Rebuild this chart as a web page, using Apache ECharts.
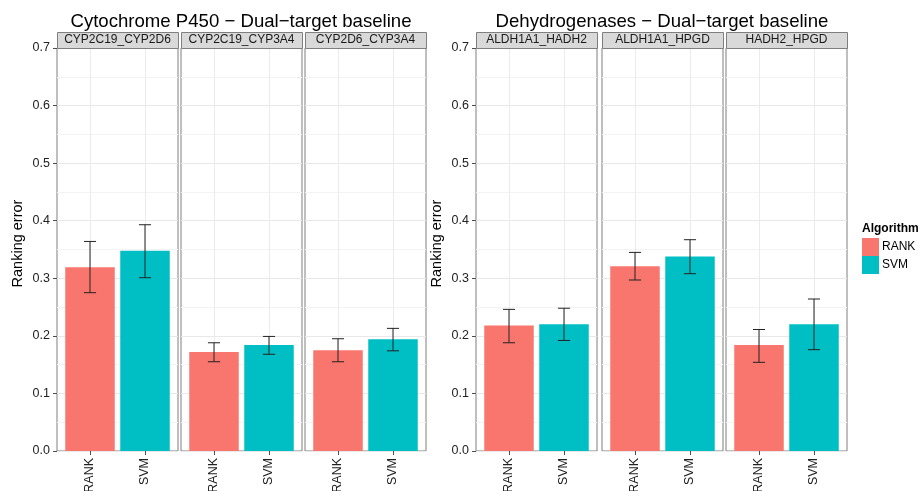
<!DOCTYPE html>
<html>
<head>
<meta charset="utf-8">
<script src="https://cdn.jsdelivr.net/npm/echarts@6/dist/echarts.min.js"></script>
<style>html,body{margin:0;padding:0;background:#fff;}#c{width:921px;height:491px;}</style>
</head>
<body>
<div id="c"></div>
<script>
// ---- data ----
const panelTitles = ['Cytochrome P450 \u2212 Dual\u2212target baseline', 'Dehydrogenases \u2212 Dual\u2212target baseline'];
const facets1 = ['CYP2C19_CYP2D6', 'CYP2C19_CYP3A4', 'CYP2D6_CYP3A4'];
const facets2 = ['ALDH1A1_HADH2', 'ALDH1A1_HPGD', 'HADH2_HPGD'];
const algorithms = ['RANK', 'SVM'];
const rankMean1 = [0.319, 0.172, 0.175];
const rankLow1  = [0.275, 0.155, 0.155];
const rankHigh1 = [0.364, 0.188, 0.195];
const svmMean1  = [0.348, 0.184, 0.194];
const svmLow1   = [0.301, 0.168, 0.174];
const svmHigh1  = [0.393, 0.199, 0.213];
const rankMean2 = [0.218, 0.321, 0.184];
const rankLow2  = [0.188, 0.297, 0.154];
const rankHigh2 = [0.246, 0.345, 0.211];
const svmMean2  = [0.220, 0.338, 0.220];
const svmLow2   = [0.192, 0.308, 0.176];
const svmHigh2  = [0.248, 0.367, 0.264];
const yTicks = [0.0, 0.1, 0.2, 0.3, 0.4, 0.5, 0.6, 0.7];

// ---- layout ----
const FONT = 'Liberation Sans, Arial, Helvetica, sans-serif';
const colors = {RANK: '#F8766D', SVM: '#00BFC4'};
const gridLefts = [57, 181, 305, 476, 602, 726];
const gridW = 121, gridTop = 48, gridH = 403;

const facets = facets1.concat(facets2);
const means = {
  RANK: rankMean1.concat(rankMean2),
  SVM: svmMean1.concat(svmMean2)
};
const lows = {RANK: rankLow1.concat(rankLow2), SVM: svmLow1.concat(svmLow2)};
const highs = {RANK: rankHigh1.concat(rankHigh2), SVM: svmHigh1.concat(svmHigh2)};

const grids = [], xAxes = [], yAxes = [], series = [], graphics = [];

facets.forEach((f, i) => {
  const first = (i === 0 || i === 3);
  grids.push({left: gridLefts[i], top: gridTop, width: gridW, height: gridH,
    outerBoundsMode: 'none', containLabel: false,
    show: true, backgroundColor: '#fff', borderColor: '#7F7F7F', borderWidth: 1});
  xAxes.push({
    gridIndex: i, type: 'value', min: 0.4, max: 2.6,
    axisLine: {show: false},
    axisTick: {show: true, length: 4, customValues: [1, 2], lineStyle: {color: '#4D4D4D'}},
    axisLabel: {show: true, customValues: [1, 2], rotate: 90, margin: 7,
      fontSize: 12.5, fontFamily: FONT, color: '#222',
      formatter: v => algorithms[Math.round(v) - 1] || ''},
    splitLine: {show: true, lineStyle: {color: '#EBEBEB', width: 1}}
  });
  yAxes.push({
    gridIndex: i, type: 'value', min: 0, max: 0.7, interval: 0.1,
    name: first ? 'Ranking error' : '', nameLocation: 'middle', nameGap: 32,
    nameTextStyle: {fontSize: 14.5, fontFamily: FONT, color: '#000', padding: [0, 0, 0, 12]},
    axisLine: {show: false},
    axisTick: {show: first, length: 4, lineStyle: {color: '#4D4D4D'}},
    axisLabel: {show: first, margin: 7, fontSize: 12.5, fontFamily: FONT, color: '#222',
      formatter: v => v.toFixed(1)},
    splitLine: {show: true, lineStyle: {color: '#E8E8E8', width: 1}},
    minorTick: {show: false, splitNumber: 2},
    minorSplitLine: {show: true, lineStyle: {color: '#F3F3F3', width: 1}}
  });
  algorithms.forEach((a, k) => {
    series.push({
      name: a, type: 'custom', xAxisIndex: i, yAxisIndex: i,
      itemStyle: {color: colors[a]},
      data: [[k + 1, means[a][i]]],
      renderItem: (params, api) => {
        const x = api.value(0), y = api.value(1);
        const p0 = api.coord([x - 0.45, y]);
        const p1 = api.coord([x + 0.45, 0]);
        return {type: 'rect', shape: {x: p0[0], y: p0[1], width: p1[0] - p0[0], height: p1[1] - p0[1]},
          style: {fill: colors[a]}};
      },
      z: 2
    });
    series.push({
      type: 'custom', xAxisIndex: i, yAxisIndex: i,
      data: [[k + 1, lows[a][i], highs[a][i]]],
      renderItem: (params, api) => {
        const x = api.value(0);
        const lo = api.coord([x, api.value(1)]);
        const hi = api.coord([x, api.value(2)]);
        const cl = api.coord([x - 0.11, api.value(1)]);
        const cr = api.coord([x + 0.11, api.value(1)]);
        const st = {stroke: '#222', lineWidth: 1};
        return {type: 'group', children: [
          {type: 'line', shape: {x1: lo[0], y1: lo[1], x2: hi[0], y2: hi[1]}, style: st},
          {type: 'line', shape: {x1: cl[0], y1: lo[1], x2: cr[0], y2: lo[1]}, style: st},
          {type: 'line', shape: {x1: cl[0], y1: hi[1], x2: cr[0], y2: hi[1]}, style: st}
        ]};
      },
      z: 3
    });
  });
  // strip
  graphics.push({type: 'rect', left: gridLefts[i], top: 32,
    shape: {width: gridW, height: 16},
    style: {fill: '#D9D9D9', stroke: '#7F7F7F', lineWidth: 1}, z: 10});
  graphics.push({type: 'text', x: gridLefts[i] + gridW / 2, y: 40,
    style: {text: f, fill: '#1A1A1A', font: '12px ' + FONT, textAlign: 'center', textVerticalAlign: 'middle'}, z: 11});
});

graphics.push({type: 'text', x: 862, y: 229,
  style: {text: 'Algorithm', fill: '#000', font: 'bold 12px ' + FONT, textAlign: 'left', textVerticalAlign: 'middle'}});

const option = {
  backgroundColor: '#fff',
  animation: false,
  title: [
    {text: panelTitles[0], left: 241, top: 12, padding: 0, textAlign: 'center',
      textStyle: {fontSize: 18.6, fontWeight: 'normal', color: '#000', fontFamily: FONT}},
    {text: panelTitles[1], left: 662, top: 12, padding: 0, textAlign: 'center',
      textStyle: {fontSize: 18.6, fontWeight: 'normal', color: '#000', fontFamily: FONT}}
  ],
  legend: {
    data: algorithms, orient: 'vertical', left: 862, top: 238,
    icon: 'rect', itemWidth: 17, itemHeight: 18, itemGap: 0,
    padding: 0, selectedMode: false,
    textStyle: {fontSize: 12, fontFamily: FONT, color: '#000', padding: [0, 0, 0, -2]}
  },
  grid: grids, xAxis: xAxes, yAxis: yAxes, series: series, graphic: graphics
};
const chart = echarts.init(document.getElementById('c'), null, {renderer: 'canvas'});
chart.setOption(option);
</script>
</body>
</html>
